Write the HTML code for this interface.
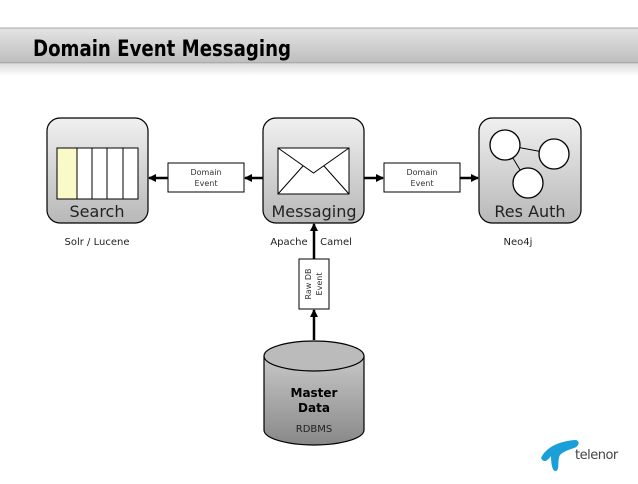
<!DOCTYPE html>
<html><head><style>
body{margin:0;width:638px;height:479px;background:#fff;overflow:hidden;font-family:"Liberation Sans","DejaVu Sans",sans-serif}
</style></head><body>
<svg width="638" height="479" viewBox="0 0 638 479" xmlns="http://www.w3.org/2000/svg" font-family="DejaVu Sans, Liberation Sans, sans-serif">
<defs>
<linearGradient id="bar" x1="0" y1="0" x2="0" y2="1"><stop offset="0" stop-color="#e4e4e4"/><stop offset="1" stop-color="#bdbdbd"/></linearGradient>
<linearGradient id="box" x1="0" y1="0" x2="0" y2="1"><stop offset="0" stop-color="#f0f0f0"/><stop offset="1" stop-color="#b8b8b8"/></linearGradient>
<linearGradient id="cyl" x1="0" y1="0" x2="0" y2="1"><stop offset="0" stop-color="#c8c8c8"/><stop offset="1" stop-color="#888"/></linearGradient>
<linearGradient id="sh" x1="0" y1="0" x2="0" y2="1"><stop offset="0" stop-color="#ddd"/><stop offset="1" stop-color="#fff"/></linearGradient>
<marker id="ah" markerWidth="8" markerHeight="8" refX="7" refY="4" orient="auto" markerUnits="userSpaceOnUse"><path d="M0,0 L8,4 L0,8 z" fill="#000"/></marker>
</defs>
<rect x="0" y="64" width="638" height="12" fill="url(#sh)"/>
<rect x="0" y="28" width="638" height="35" fill="url(#bar)"/>
<line x1="0" y1="28" x2="638" y2="28" stroke="#aaa"/>
<line x1="0" y1="63" x2="638" y2="63" stroke="#999"/>
<text x="33" y="56" font-size="22" font-weight="bold" textLength="258" lengthAdjust="spacingAndGlyphs">Domain Event Messaging</text>

<rect x="47" y="118" width="101" height="105" rx="13" fill="url(#box)" stroke="#000" stroke-width="1.2"/>
<rect x="57" y="148" width="20" height="51" fill="#fafac8" stroke="#000"/>
<rect x="77" y="148" width="15" height="51" fill="#fff" stroke="#000"/>
<rect x="92" y="148" width="15" height="51" fill="#fff" stroke="#000"/>
<rect x="107" y="148" width="16" height="51" fill="#fff" stroke="#000"/>
<rect x="123" y="148" width="15" height="51" fill="#fff" stroke="#000"/>
<text x="97" y="217" font-size="16" text-anchor="middle" fill="#222">Search</text>

<rect x="263" y="118" width="101" height="105" rx="13" fill="url(#box)" stroke="#000" stroke-width="1.2"/>
<rect x="278" y="148" width="71" height="46" fill="#fff" stroke="#000"/>
<path d="M278,148 L313.5,173 L349,148 M278,194 L303,166 M349,194 L324,166" fill="none" stroke="#000"/>
<text x="314" y="217" font-size="16" text-anchor="middle" fill="#222">Messaging</text>

<rect x="479" y="118" width="102" height="105" rx="13" fill="url(#box)" stroke="#000" stroke-width="1.2"/>
<path d="M505,145 L554,154 M505,145 L528,183" stroke="#000"/>
<circle cx="505" cy="145" r="15" fill="#fff" stroke="#000" stroke-width="1.3"/>
<circle cx="554" cy="154" r="15" fill="#fff" stroke="#000" stroke-width="1.3"/>
<circle cx="528" cy="183" r="15" fill="#fff" stroke="#000" stroke-width="1.3"/>
<text x="530" y="217" font-size="16" text-anchor="middle" fill="#222">Res Auth</text>

<line x1="263" y1="178" x2="245" y2="178" stroke="#000" stroke-width="2.5" marker-end="url(#ah)"/>
<line x1="168" y1="178" x2="149" y2="178" stroke="#000" stroke-width="2.5" marker-end="url(#ah)"/>
<rect x="168" y="163" width="76" height="29" fill="#fff" stroke="#000"/>
<text x="206" y="175" font-size="8" text-anchor="middle" fill="#333">Domain</text>
<text x="206" y="186" font-size="8" text-anchor="middle" fill="#333">Event</text>

<line x1="364" y1="178" x2="383" y2="178" stroke="#000" stroke-width="2.5" marker-end="url(#ah)"/>
<line x1="460" y1="178" x2="478" y2="178" stroke="#000" stroke-width="2.5" marker-end="url(#ah)"/>
<rect x="384" y="163" width="76" height="29" fill="#fff" stroke="#000"/>
<text x="422" y="175" font-size="8" text-anchor="middle" fill="#333">Domain</text>
<text x="422" y="186" font-size="8" text-anchor="middle" fill="#333">Event</text>

<text x="97" y="245" font-size="10" text-anchor="middle" fill="#222">Solr / Lucene</text>
<text x="289" y="245" font-size="10" text-anchor="middle" fill="#222">Apache</text>
<text x="336" y="245" font-size="10" text-anchor="middle" fill="#222">Camel</text>
<text x="518" y="245" font-size="10" text-anchor="middle" fill="#222">Neo4j</text>

<line x1="314" y1="340" x2="314" y2="310" stroke="#000" stroke-width="2.5" marker-end="url(#ah)"/>
<line x1="314" y1="259" x2="314" y2="224" stroke="#000" stroke-width="2.5" marker-end="url(#ah)"/>
<rect x="299" y="259" width="30" height="50" fill="#fff" stroke="#000"/>
<text transform="translate(311,284) rotate(-90)" font-size="8" text-anchor="middle" fill="#333">Raw DB</text>
<text transform="translate(322,284) rotate(-90)" font-size="8" text-anchor="middle" fill="#333">Event</text>

<path d="M264,356 L264,430 A50,15 0 0 0 364,430 L364,356" fill="url(#cyl)" stroke="#000" stroke-width="1.2"/>
<ellipse cx="314" cy="356" rx="50" ry="15" fill="#bbb" stroke="#000" stroke-width="1.2"/>
<text x="314" y="397" font-size="12" font-weight="bold" text-anchor="middle">Master</text>
<text x="314" y="412" font-size="12" font-weight="bold" text-anchor="middle">Data</text>
<text x="314" y="432" font-size="10" text-anchor="middle" fill="#222">RDBMS</text>

<path d="M541,458 C546,447 560,441 575,440 C580,440 580,446 574,448 C568,450 563,452 560,455 C557,460 560,470 556,471 C552,472 551,462 551,456 C548,460 544,464 541,458 z" fill="#1a9fd9"/>
<text x="575" y="459" font-size="13" fill="#444" letter-spacing="-0.5">telenor</text>
</svg>
</body></html>
